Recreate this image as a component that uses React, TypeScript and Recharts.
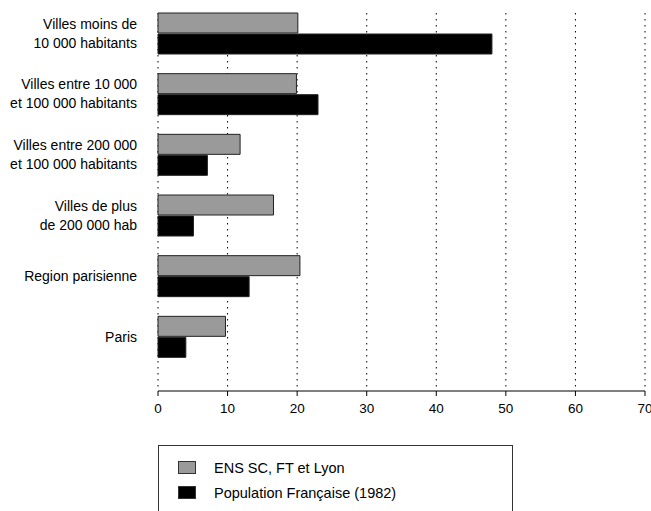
import React from "react";
import { BarChart, Bar, XAxis, YAxis, CartesianGrid, Legend } from "recharts";

// categories (top to bottom), "\n" splits the two-line labels
const categories = [
  "Villes moins de\n10 000 habitants",
  "Villes entre 10 000\net 100 000 habitants",
  "Villes entre 200 000\net 100 000 habitants",
  "Villes de plus\nde 200 000 hab",
  "Region parisienne",
  "Paris",
];
const ensValues = [20.1, 19.9, 11.8, 16.6, 20.4, 9.7];
const popValues = [48.0, 23.0, 7.1, 5.1, 13.1, 4.0];
const xTicks = [0, 10, 20, 30, 40, 50, 60, 70];
const seriesNames = ["ENS SC, FT et Lyon", "Population Française (1982)"];
const seriesColors = ["#9a9a9a", "#000000"];

const data = categories.map((c, i) => ({
  name: c,
  ens: ensValues[i],
  pop: popValues[i],
}));

const FONT = "'Liberation Sans', Arial, Helvetica, sans-serif";

function CategoryTick(props: any) {
  const { y, payload } = props;
  const lines: string[] = String(payload.value).split("\n");
  const lh = 19;
  const start = -((lines.length - 1) * lh) / 2;
  return (
    <text
      x={137}
      y={y}
      textAnchor="end"
      fontSize={14}
      fontFamily={FONT}
      fill="#000"
    >
      {lines.map((l, i) => (
        <tspan key={i} x={137} y={y + start + i * lh} dy="0.35em">
          {l}
        </tspan>
      ))}
    </text>
  );
}

function LegendBox() {
  return (
    <div
      style={{
        width: 355,
        height: 80,
        border: "1px solid #333",
        boxSizing: "border-box",
        fontFamily: FONT,
        fontSize: 14.5,
        paddingTop: 9,
      }}
    >
      {seriesNames.map((n, i) => (
        <div
          key={n}
          style={{ display: "flex", alignItems: "center", height: 25 }}
        >
          <span
            style={{
              display: "inline-block",
              width: 16,
              height: 11,
              marginLeft: 19,
              marginRight: 18,
              background: seriesColors[i],
              border: "1px solid #333",
            }}
          />
          <span>{n}</span>
        </div>
      ))}
    </div>
  );
}

export default function App() {
  return (
    <div style={{ position: "absolute", left: 0, top: 0, background: "#fff" }}>
      <BarChart
        width={651}
        height={511}
        data={data}
        layout="vertical"
        margin={{ top: 3, right: 6, bottom: 90, left: 0 }}
        barSize={20}
        barGap={1}
      >
        <CartesianGrid
          horizontal={false}
          stroke="#000"
          strokeDasharray="1.5 4.5"
          y={13}
          height={374}
        />
        <XAxis
          type="number"
          domain={[0, 70]}
          ticks={xTicks}
          interval={0}
          height={30}
          axisLine={{ stroke: "#000" }}
          tickLine={{ stroke: "#000" }}
          tickSize={5}
          tickMargin={7}
          tick={{ fill: "#000", fontSize: 13.5, fontFamily: FONT }}
        />
        <YAxis
          type="category"
          dataKey="name"
          width={158}
          axisLine={false}
          tickLine={false}
          interval={0}
          padding={{ top: 0, bottom: 24 }}
          tick={<CategoryTick />}
        />
        <Legend
          layout="vertical"
          align="center"
          verticalAlign="middle"
          wrapperStyle={{ left: 158, top: 445, width: 355 }}
          content={() => <LegendBox />}
        />
        <Bar
          dataKey="ens"
          name={seriesNames[0]}
          fill={seriesColors[0]}
          stroke="#222"
          strokeWidth={1}
          isAnimationActive={false}
        />
        <Bar
          dataKey="pop"
          name={seriesNames[1]}
          fill={seriesColors[1]}
          stroke="#222"
          strokeWidth={1}
          isAnimationActive={false}
        />
      </BarChart>
    </div>
  );
}
